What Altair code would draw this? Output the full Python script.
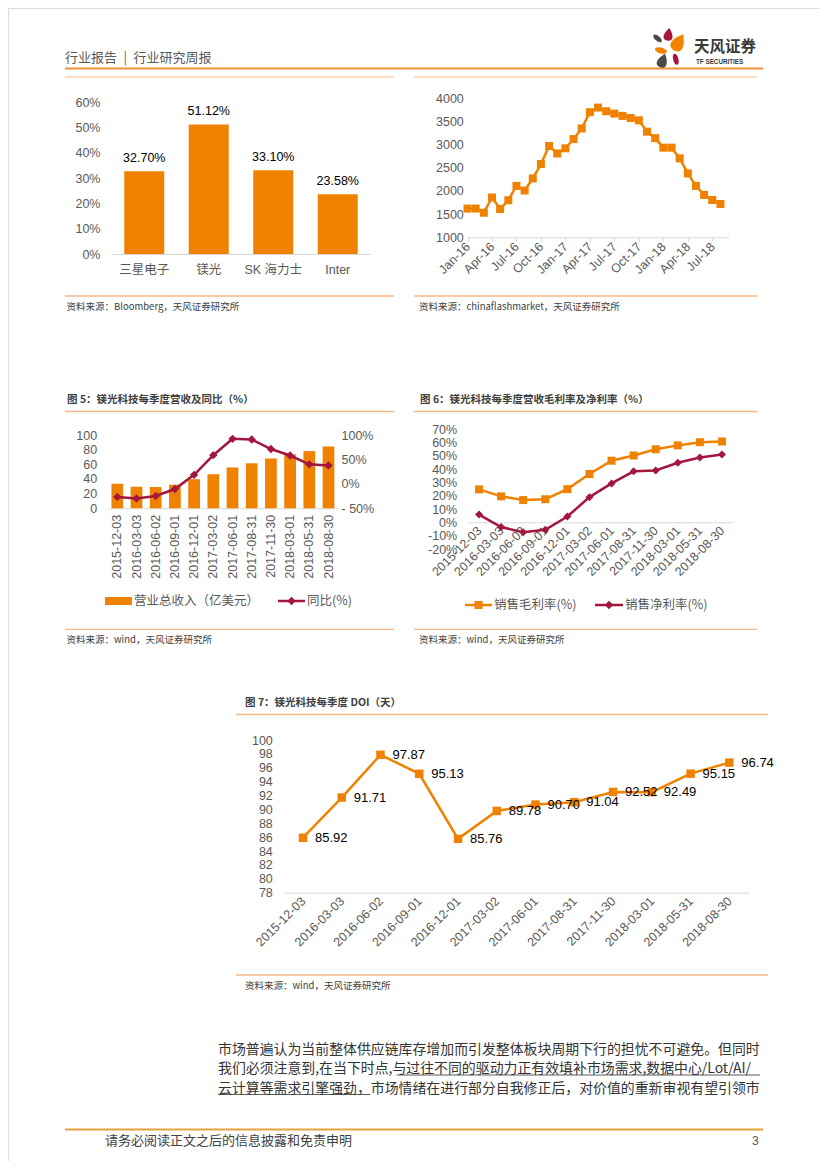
import altair as alt
import pandas as pd

W, H = 811, 1153
LAT = "Liberation Sans, Arial, Noto Sans CJK SC, sans-serif"
CJK = "Noto Sans CJK SC, Liberation Sans, sans-serif"
ORANGE = "#EF8200"
CRIMSON = "#A3163D"
LABEL = "#595959"
DARK = "#404040"
AXLINE = "#D9D9D9"
RULE_LIGHT = "#F5B887"
RULE_MAIN = "#EE9236"

# ---------------- data ----------------
share_companies = ["三星电子", "镁光", "SK 海力士", "Inter"]
share_values = [32.70, 51.12, 33.10, 23.58]

price_months = ["Jan-16", "Feb-16", "Mar-16", "Apr-16", "May-16", "Jun-16",
                "Jul-16", "Aug-16", "Sep-16", "Oct-16", "Nov-16", "Dec-16",
                "Jan-17", "Feb-17", "Mar-17", "Apr-17", "May-17", "Jun-17",
                "Jul-17", "Aug-17", "Sep-17", "Oct-17", "Nov-17", "Dec-17",
                "Jan-18", "Feb-18", "Mar-18", "Apr-18", "May-18", "Jun-18",
                "Jul-18", "Aug-18"]
price_values = [1620, 1620, 1530, 1860, 1610, 1800, 2110, 2010, 2270, 2580, 2970, 2810,
                2920, 3120, 3350, 3700, 3800, 3720, 3670, 3620, 3575, 3525, 3280, 3140,
                2935, 2935, 2705, 2380, 2110, 1915, 1805, 1720]
price_tick_labels = ["Jan-16", "Apr-16", "Jul-16", "Oct-16", "Jan-17", "Apr-17",
                     "Jul-17", "Oct-17", "Jan-18", "Apr-18", "Jul-18"]

quarters = ["2015-12-03", "2016-03-03", "2016-06-02", "2016-09-01", "2016-12-01",
            "2017-03-02", "2017-06-01", "2017-08-31", "2017-11-30", "2018-03-01",
            "2018-05-31", "2018-08-30"]
revenue = [33.5, 29.3, 29.0, 32.2, 39.7, 46.5, 55.7, 61.4, 68.0, 73.5, 78.0, 84.4]
revenue_yoy = [-26.7, -29.7, -24.7, -10.6, 18.5, 58.7, 92.1, 90.7, 71.3, 58.0, 40.0, 37.5]
gross_margin = [24.8, 19.6, 16.8, 17.4, 25.0, 36.4, 46.4, 50.3, 55.0, 57.9, 60.3, 60.8]
net_margin = [5.9, -3.5, -7.4, -5.6, 4.4, 19.0, 29.3, 38.4, 39.0, 44.8, 48.8, 51.0]
doi = [85.92, 91.71, 97.87, 95.13, 85.76, 89.78, 90.70, 91.04, 92.52, 92.49, 95.15, 96.74]

df_share = pd.DataFrame({"company": share_companies, "share": share_values})
df_price = pd.DataFrame({"month": price_months, "price": price_values})
df_q = pd.DataFrame({"quarter": quarters, "revenue": revenue, "yoy": revenue_yoy, "doi": doi})
df_margin = pd.DataFrame({
    "quarter": quarters + quarters,
    "series": ["gm"] * len(quarters) + ["nm"] * len(quarters),
    "margin": gross_margin + net_margin,
})
ONE = pd.DataFrame({"k": [0]})


# ---------------- helpers (page coords -> group coords) ----------------
def px(v):
    return v - 8


def py(v):
    return v - 8


def ax_bottom(page_y, **kw):
    d = dict(orient="bottom", offset=py(page_y) - H, title=None, grid=False, ticks=False,
             domain=True, domainColor=AXLINE, domainWidth=1,
             labelColor=LABEL, labelFont=LAT, labelFontSize=12.5,
             labelOverlap=False, labelPadding=6)
    d.update(kw)
    return alt.Axis(**d)


def ax_left(label_right, values, **kw):
    d = dict(orient="left", offset=-(px(label_right) + 4), labelPadding=4, title=None,
             grid=False, ticks=False, domain=False, values=values,
             labelColor=LABEL, labelFont=LAT, labelFontSize=12.5,
             labelOverlap=False, labelFlush=False)
    d.update(kw)
    return alt.Axis(**d)


def ax_right(label_left, values, **kw):
    d = dict(orient="right", offset=(px(label_left) - 4) - W, labelPadding=4, title=None,
             grid=False, ticks=False, domain=False, values=values,
             labelColor=LABEL, labelFont=LAT, labelFontSize=12.5,
             labelOverlap=False, labelFlush=False)
    d.update(kw)
    return alt.Axis(**d)


def txt(x, y, s, size=12, color=DARK, weight="normal", align="left", font=CJK, baseline="middle"):
    return alt.Chart(ONE).mark_text(text=s, fontSize=size, color=color, fontWeight=weight,
                                    align=align, baseline=baseline, font=font).encode(
        x=alt.value(px(x)), y=alt.value(py(y)))


def hline(x1, x2, y, color, w=1.0):
    return alt.Chart(ONE).mark_rule(color=color, strokeWidth=w).encode(
        x=alt.value(px(x1)), x2=alt.value(px(x2)), y=alt.value(py(y)))


def sym(x, y, shape, size, color, angle=0):
    return alt.Chart(ONE).mark_point(shape=shape, size=size, angle=angle, filled=True,
                                     color=color, opacity=1, strokeWidth=0).encode(
        x=alt.value(px(x)), y=alt.value(py(y)))


def box(x1, x2, y1, y2, color):
    return alt.Chart(ONE).mark_rect(color=color).encode(
        x=alt.value(px(x1)), x2=alt.value(px(x2)), y=alt.value(py(y1)), y2=alt.value(py(y2)))


# ---------------- chart 1: market share bars ----------------
x1 = alt.X("company:N", sort=share_companies,
           scale=alt.Scale(domain=share_companies, range=[px(112), px(370)],
                           paddingInner=0.38, paddingOuter=0.19),
           axis=ax_bottom(254, labelAngle=0, labelPadding=9))
y1 = alt.Y("share:Q", scale=alt.Scale(domain=[0, 60], range=[py(254), py(102)], nice=False, zero=False),
           axis=ax_left(100, list(range(0, 61, 10)), labelExpr="datum.value + '%'"))
base1 = alt.Chart(df_share).transform_calculate(
    lbl="format(datum.share, '.2f') + '%'").encode(x=x1, y=y1)
chart1 = alt.layer(
    base1.mark_bar(color=ORANGE),
    base1.mark_text(dy=-13, fontSize=12.5, font=LAT, color="#000000").encode(text="lbl:N"),
)

# ---------------- chart 2: price index ----------------
x2 = alt.X("month:N", sort=price_months,
           scale=alt.Scale(type="point", domain=price_months, range=[px(467.5), px(728.6)],
                           padding=0.5, align=0),
           axis=ax_bottom(237.3, values=price_tick_labels, labelAngle=315, labelAlign="right",
                          labelBaseline="middle", ticks=True, tickSize=4, tickColor=AXLINE,
                          labelPadding=3))
y2 = alt.Y("price:Q", scale=alt.Scale(domain=[1000, 4000], range=[py(237.3), py(98.3)], nice=False, zero=False),
           axis=ax_left(463.3, list(range(1000, 4001, 500)), format="d"))
base2 = alt.Chart(df_price).encode(x=x2, y=y2)
chart2 = alt.layer(
    base2.mark_line(color=ORANGE, strokeWidth=2.5),
    base2.mark_point(shape="square", filled=True, size=64, color=ORANGE, opacity=1),
)

# ---------------- chart 5: revenue + yoy ----------------
x5 = alt.X("quarter:N", sort=quarters,
           scale=alt.Scale(domain=quarters, range=[px(107.7), px(338.1)],
                           paddingInner=0.39, paddingOuter=0.195),
           axis=ax_bottom(508.3, labelAngle=270, labelAlign="right", labelBaseline="middle", labelPadding=6))
y5a = alt.Y("revenue:Q", scale=alt.Scale(domain=[0, 100], range=[py(508.3), py(435)], nice=False, zero=False),
            axis=ax_left(96.7, list(range(0, 101, 20))))
y5b = alt.Y("yoy:Q", scale=alt.Scale(domain=[-50, 100], range=[py(508.3), py(435)], nice=False, zero=False),
            axis=ax_right(341, [-50, 0, 50, 100],
                          labelExpr="datum.value < 0 ? '- ' + abs(datum.value) + '%' : datum.value + '%'"))
bars5 = alt.Chart(df_q).mark_bar(color=ORANGE).encode(x=x5, y=y5a)
yoy_base = alt.Chart(df_q).encode(x=x5, y=y5b)
yoy_layer = alt.layer(
    yoy_base.mark_line(color=CRIMSON, strokeWidth=2.5),
    yoy_base.mark_point(shape="diamond", filled=True, size=70, color=CRIMSON, opacity=1),
)
chart5 = alt.layer(bars5, yoy_layer).resolve_scale(y="independent")

# ---------------- chart 6: margins ----------------
x6 = alt.X("quarter:N", sort=quarters,
           scale=alt.Scale(type="point", domain=quarters, range=[px(468), px(733)], padding=0.5),
           axis=ax_bottom(522.3, labelAngle=315, labelAlign="right", labelBaseline="middle", labelPadding=6))
y6 = alt.Y("margin:Q", scale=alt.Scale(domain=[-20, 70], range=[py(549), py(429.3)], nice=False, zero=False),
           axis=ax_left(456.7, list(range(-20, 71, 10)), labelExpr="datum.value + '%'"))
color6 = alt.Color("series:N", scale=alt.Scale(domain=["gm", "nm"], range=[ORANGE, CRIMSON]), legend=None)
shape6 = alt.Shape("series:N", scale=alt.Scale(domain=["gm", "nm"], range=["square", "diamond"]), legend=None)
base6 = alt.Chart(df_margin).encode(x=x6, y=y6, color=color6)
chart6 = alt.layer(
    base6.mark_line(strokeWidth=2.5),
    base6.mark_point(filled=True, size=64, opacity=1).encode(shape=shape6),
)

# ---------------- chart 7: DOI ----------------
x7 = alt.X("quarter:N", sort=quarters,
           scale=alt.Scale(type="point", domain=quarters, range=[px(283.6), px(748.7)], padding=0.5),
           axis=ax_bottom(892.7, labelAngle=315, labelAlign="right", labelBaseline="middle", labelPadding=6))
y7 = alt.Y("doi:Q", scale=alt.Scale(domain=[78, 100], range=[py(892.7), py(740)], nice=False, zero=False),
           axis=ax_left(272.3, list(range(78, 101, 2))))
base7 = alt.Chart(df_q).encode(x=x7, y=y7)
chart7 = alt.layer(
    base7.mark_line(color=ORANGE, strokeWidth=2.5),
    base7.mark_point(shape="square", filled=True, size=72, color=ORANGE, opacity=1),
    base7.mark_text(align="left", dx=12, baseline="middle", fontSize=13, font=LAT, color="#000000").encode(
        text=alt.Text("doi:Q", format=".2f")),
)

# ---------------- page decorations ----------------
ELLIPSE = "M0,-1 C0.62,-1 0.62,1 0,1 C-0.62,1 -0.62,-1 0,-1 Z"
DROP = "M0,-1 C0.45,-0.45 0.75,0.1 0.62,0.55 C0.45,1 -0.45,1 -0.62,0.55 C-0.75,0.1 -0.45,-0.45 0,-1 Z"
LOGO_GRAY = "#4B4B4B"
LOGO_RED = "#A61641"
LOGO_ORANGE = "#F08300"

deco = [
    # header
    txt(65, 58, "行业报告\u2002|\u2002行业研究周报", size=13, color=LABEL),
    hline(65, 763, 68.5, RULE_MAIN, 2),
    sym(657.5, 38.3, ELLIPSE, 110, LOGO_GRAY, angle=310),
    sym(668.3, 34.7, DROP, 190, LOGO_RED, angle=8),
    sym(678.3, 42.8, DROP, 380, LOGO_ORANGE, angle=30),
    sym(661, 50.5, ELLIPSE, 150, LOGO_ORANGE, angle=285),
    sym(662.5, 61, DROP, 230, LOGO_GRAY, angle=20),
    sym(675.8, 59.2, ELLIPSE, 130, LOGO_RED, angle=345),
    txt(694, 47, "天风证券", size=15.5, color="#3A3A3A", weight="bold"),
    txt(696, 62, "TF SECURITIES", size=6.3, color="#3A3A3A", weight="bold",
        font="Liberation Sans Narrow, Liberation Sans, sans-serif"),
    # row 1 frame
    hline(65, 394, 77, RULE_LIGHT, 1.2),
    hline(414, 757, 77, RULE_LIGHT, 1.2),
    hline(65, 394, 296, RULE_LIGHT, 1.3),
    hline(414, 757, 296, RULE_LIGHT, 1.3),
    txt(66.5, 307, "资料来源：Bloomberg，天风证券研究所", size=9.5),
    txt(419, 307, "资料来源：chinaflashmarket，天风证券研究所", size=9.5),
    # row 2 frame
    txt(67, 400, "图 5：镁光科技每季度营收及同比（%）", size=10.5, weight="bold"),
    txt(420, 400, "图 6：镁光科技每季度营收毛利率及净利率（%）", size=10.5, weight="bold"),
    hline(65, 394, 411.5, RULE_LIGHT, 1.3),
    hline(414, 757, 411.5, RULE_LIGHT, 1.3),
    hline(65, 394, 629.3, RULE_LIGHT, 1.3),
    hline(414, 757, 629.3, RULE_LIGHT, 1.3),
    txt(66.5, 640, "资料来源：wind，天风证券研究所", size=9.5),
    txt(419, 640, "资料来源：wind，天风证券研究所", size=9.5),
    # legends row 2
    box(105, 132, 597, 605, ORANGE),
    txt(134, 601, "营业总收入（亿美元）", size=12.5, color=LABEL),
    hline(278, 305, 601, CRIMSON, 2.5),
    sym(291.5, 601, "diamond", 70, CRIMSON),
    txt(307, 601, "同比(%)", size=12.5, color=LABEL),
    hline(465, 492, 605, ORANGE, 2.5),
    sym(478.5, 605, "square", 64, ORANGE),
    txt(494, 605, "销售毛利率(%)", size=12.5, color=LABEL),
    hline(595, 623, 605, CRIMSON, 2.5),
    sym(609, 605, "diamond", 70, CRIMSON),
    txt(625, 605, "销售净利率(%)", size=12.5, color=LABEL),
    # chart 7 frame
    txt(245, 703, "图 7：镁光科技每季度 DOI（天）", size=10.5, weight="bold"),
    hline(236, 768, 714.5, RULE_LIGHT, 1.3),
    hline(236, 768, 975, RULE_LIGHT, 1.3),
    txt(245, 986, "资料来源：wind，天风证券研究所", size=9.5),
    # paragraph
    txt(218, 1050, "市场普遍认为当前整体供应链库存增加而引发整体板块周期下行的担忧不可避免。但同时", size=13.9, color="#333333"),
    txt(218, 1069, "我们必须注意到,在当下时点,与过往不同的驱动力正有效填补市场需求,数据中心/Lot/AI/", size=13.9, color="#333333"),
    txt(218, 1088.5, "云计算等需求引擎强劲，市场情绪在进行部分自我修正后，对价值的重新审视有望引领市", size=13.9, color="#333333"),
    hline(396.5, 760, 1075, "#333333", 0.8),
    hline(218, 370, 1094.5, "#333333", 0.8),
    # footer
    hline(65, 763, 1129.5, "#E9A23B", 2),
    txt(105, 1141, "请务必阅读正文之后的信息披露和免责申明", size=13, color=DARK),
    txt(752, 1141, "3", size=12, color=LABEL, font=LAT),
]

chart = alt.layer(chart1, chart2, chart5, chart6, chart7, *deco).resolve_scale(
    x="independent", y="independent"
).resolve_axis(
    x="independent", y="independent"
).properties(
    width=W, height=H, padding=0,
    autosize=alt.AutoSizeParams(type="none"),
).configure_view(stroke=None).configure(background="white")

chart.save("out.html", embed_options={"renderer": "svg", "actions": False})
